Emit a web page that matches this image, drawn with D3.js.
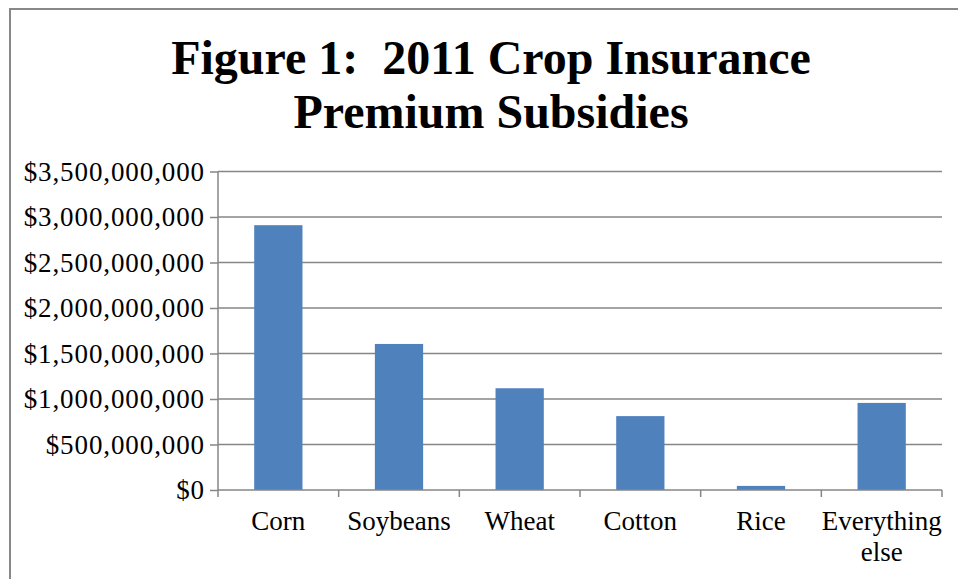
<!DOCTYPE html>
<html><head><meta charset="utf-8">
<script src="https://cdn.jsdelivr.net/npm/d3@7"></script>
<style>body{margin:0;background:#fff}svg{display:block}</style>
</head><body>
<script>
const categories = ["Corn","Soybeans","Wheat","Cotton","Rice","Everything else"];
const values = [2910000000,1605000000,1118000000,812000000,45000000,957000000];
const yTicks = [0,500000000,1000000000,1500000000,2000000000,2500000000,3000000000,3500000000];
const titleLines = ["Figure 1:  2011 Crop Insurance","Premium Subsidies"];

(function(){
const W=958,H=579;
const svg=d3.select("body").append("svg").attr("width",W).attr("height",H);
// frame
svg.append("path").attr("d","M10,"+H+" L10,9 L"+W+",9").attr("fill","none").attr("stroke","#888").attr("stroke-width",2);

const pL=218,pR=942,pT=171.5,pB=490;
const x=d3.scaleBand().domain(categories).range([pL,pR]).padding(0);
const y=d3.scaleLinear().domain([0,3500000000]).range([pB,pT]);
const font="'Liberation Serif','Times New Roman',serif";

// gridlines
svg.append("g").selectAll("line").data(yTicks.slice(1)).join("line")
  .attr("x1",pL).attr("x2",pR).attr("y1",d=>y(d)).attr("y2",d=>y(d))
  .attr("stroke","#868686").attr("stroke-width",1.5);

// bars
const bw=x.bandwidth()*0.4;
svg.append("g").selectAll("rect").data(values).join("rect")
  .attr("x",(d,i)=>x(categories[i])+x.bandwidth()/2-bw/2)
  .attr("width",bw)
  .attr("y",d=>y(d)).attr("height",d=>pB-y(d))
  .attr("fill","#4F81BD");

// y axis
const fmt=d=>"$"+d3.format(",")(d);
const ya=svg.append("g").attr("transform","translate("+pL+",0)")
  .call(d3.axisLeft(y).tickValues(yTicks).tickFormat(fmt).tickSize(8).tickPadding(5));
ya.select(".domain").attr("stroke","#868686").attr("stroke-width",1.5).attr("d","M0,"+pT+"V"+pB);
ya.selectAll(".tick line").attr("stroke","#868686").attr("stroke-width",1.5);
ya.selectAll(".tick text").attr("font-family",font).attr("font-size","27px").attr("fill","#000")
  .attr("letter-spacing","0.9px").attr("dy","0.33em");

// x axis
const xa=svg.append("g").attr("transform","translate(0,"+pB+")");
xa.append("line").attr("x1",pL).attr("x2",pR).attr("stroke","#868686").attr("stroke-width",1.5);
const bounds=categories.map(c=>x(c)).concat([pR]);
xa.selectAll("line.t").data(bounds).join("line").attr("class","t")
  .attr("x1",d=>d).attr("x2",d=>d).attr("y1",0).attr("y2",7)
  .attr("stroke","#868686").attr("stroke-width",1.5);
categories.forEach(c=>{
  const words = c==="Everything else" ? ["Everything","else"] : [c];
  const t=xa.append("text").attr("x",x(c)+x.bandwidth()/2).attr("y",40)
    .attr("text-anchor","middle").attr("font-family",font).attr("font-size","27px").attr("fill","#000");
  words.forEach((w,i)=>t.append("tspan").attr("x",x(c)+x.bandwidth()/2).attr("dy",i?31:0).text(w));
});

// title
svg.append("g").selectAll("text").data(titleLines).join("text")
  .attr("x",491).attr("y",(d,i)=>74+i*54).attr("text-anchor","middle")
  .attr("font-family",font).attr("font-weight","bold").attr("font-size","48px").attr("fill","#000")
  .style("white-space","pre").attr("xml:space","preserve")
  .text(d=>d);
})();
</script>
</body></html>
